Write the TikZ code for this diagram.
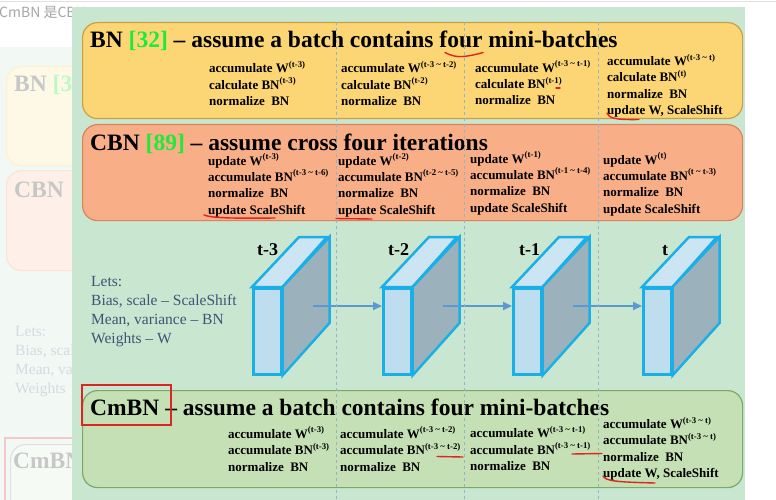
\documentclass[tikz,border=0pt]{standalone}
\usepackage{fontspec}
\setmainfont{Liberation Serif}
\newfontfamily\cjkfont{Noto Sans CJK SC}
\usetikzlibrary{arrows.meta,positioning,calc}
\definecolor{slide}{HTML}{C9E7D0}
\definecolor{fadebg}{HTML}{F2F8F4}
\definecolor{bnfill}{HTML}{FCD674}
\definecolor{bnline}{HTML}{C9A043}
\definecolor{cbnfill}{HTML}{F8AE87}
\definecolor{cbnline}{HTML}{D8845C}
\definecolor{cmbnfill}{HTML}{C4E0B4}
\definecolor{cmbnline}{HTML}{7DA868}
\definecolor{refgreen}{HTML}{1EEA3C}
\definecolor{divline}{HTML}{8EB5C8}
\definecolor{letsblue}{HTML}{3B5575}
\definecolor{cubeline}{HTML}{1AAFE6}
\definecolor{cubefront}{HTML}{BEDDEF}
\definecolor{cubetop}{HTML}{CCE5F2}
\definecolor{cubeside}{HTML}{9BB2BD}
\definecolor{flowblue}{HTML}{5A9AD3}
\definecolor{ink}{HTML}{E02424}
\tikzset{
  panel/.style={
    rounded corners=15pt, line width=1.2pt, anchor=north west,
    minimum width=660pt, minimum height=96pt, inner sep=0pt
  },
  headline/.style={font=\fontsize{23.5}{26}\selectfont\bfseries, anchor=base west, inner sep=0pt},
  steps/.style={font=\fontsize{13}{16.3}\selectfont\bfseries, align=left, anchor=base west, inner sep=0pt},
  lets/.style={font=\fontsize{15.5}{19}\selectfont, align=left, anchor=base west, inner sep=0pt},
  front/.style={
    draw=cubeline, fill=cubefront, line width=2.5pt, anchor=north west,
    minimum width=28pt, minimum height=86pt, inner sep=0pt
  },
  face/.style={draw=cubeline, line width=2.5pt},
  tlabel/.style={font=\fontsize{18}{20}\selectfont\bfseries, anchor=base west, inner sep=0pt},
  flow/.style={-{Triangle[length=9pt,width=8pt]}, line width=2.2pt, draw=flowblue},
  divider/.style={draw=divline, dashed, line width=0.6pt},
  redink/.style={draw=ink, line width=1.4pt, line cap=round},
  faded/.style={text=black!22}
}
\newcommand{\expo}[1]{\raisebox{0.42em}{\fontsize{8.8}{9}\selectfont #1}}
\newcommand{\til}{\textasciitilde{}}
\begin{document}
\begin{tikzpicture}[x=1pt,y=-1pt]
    \useasboundingbox (0,0) rectangle (776,500);
    \fill[white] (0,0) rectangle (776,500);
    \draw[black!12] (0,1.5) -- (776,1.5);
    \fill[fadebg] (0,47) rectangle (72,500);
    \node[anchor=base west, inner sep=0pt, text=black!35, font=\cjkfont\fontsize{14}{16}\selectfont] (cap) at (-1,18) {CmBN 是CBN};
    \node[panel, fill=bnfill!18, draw=bnfill!35, minimum width=200pt, minimum height=99pt] (fbn) at (6,66) {};
    \node[headline, faded] (fbnhead) at (14,92) {BN \textcolor{refgreen!30}{[32]}};
    \node[panel, fill=cbnfill!18, draw=cbnfill!35, minimum width=200pt, minimum height=100pt] (fcbn) at (6,170) {};
    \node[headline, faded] (fcbnhead) at (14,197) {CBN};
    \node[lets, text=letsblue!22] (flets) at (15,393) {Lets:\\Bias, scale\\Mean, variance\\Weights};
    \draw[ink!25, line width=1.6pt] (5,438) rectangle (200,520);
    \node[panel, fill=cmbnfill!15, draw=black!12, minimum width=200pt, minimum height=80pt] (fcmbn) at (10,444) {};
    \node[headline, faded] (fcmbnhead) at (13,468) {CmBN};
    \fill[slide] (72,7) rectangle (745,500);
    \node[panel, fill=bnfill, draw=bnline] (bn) at (82,22) {};
    \node[panel, fill=cbnfill, draw=cbnline] (cbn) at (82,124) {};
    \node[panel, fill=cmbnfill, draw=cmbnline, minimum height=97pt] (cmbn) at (82,390) {};
    \node[headline] (bnhead) at (90,48) {BN \textcolor{refgreen}{[32]} – assume a batch contains four mini-batches};
    \node[headline] (cbnhead) at (90,150) {CBN \textcolor{refgreen}{[89]} – assume cross four iterations};
    \node[headline] (cmbnhead) at (90,415) {CmBN – assume a batch contains four mini-batches};
    \node[steps] (bn1) at (209,105.5) {accumulate W\expo{(t-3)}\\calculate BN\expo{(t-3)}\\normalize\ \ BN};
    \node[steps] (bn2) at (341,105.5) {accumulate W\expo{(t-3 \til\ t-2)}\\calculate BN\expo{(t-2)}\\normalize\ \ BN};
    \node[steps] (bn3) at (475,105) {accumulate W\expo{(t-3 \til\ t-1)}\\calculate BN\expo{(t-1)}\\normalize\ \ BN};
    \node[steps] (bn4) at (607,114.5) {accumulate W\expo{(t-3 \til\ t)}\\calculate BN\expo{(t)}\\normalize\ \ BN\\update W, ScaleShift};
    \node[steps] (cbn1) at (208,214) {update W\expo{(t-3)}\\accumulate BN\expo{(t-3 \til\ t-6)}\\normalize\ \ BN\\update ScaleShift};
    \node[steps] (cbn2) at (338,214) {update W\expo{(t-2)}\\accumulate BN\expo{(t-2 \til\ t-5)}\\normalize\ \ BN\\update ScaleShift};
    \node[steps] (cbn3) at (470,212) {update W\expo{(t-1)}\\accumulate BN\expo{(t-1 \til\ t-4)}\\normalize\ \ BN\\update ScaleShift};
    \node[steps] (cbn4) at (603,213) {update W\expo{(t)}\\accumulate BN\expo{(t \til\ t-3)}\\normalize\ \ BN\\update ScaleShift};
    \node[steps] (cmbn1) at (228,471) {accumulate W\expo{(t-3)}\\accumulate BN\expo{(t-3)}\\normalize\ \ BN};
    \node[steps] (cmbn2) at (340,471) {accumulate W\expo{(t-3 \til\ t-2)}\\accumulate BN\expo{(t-3 \til\ t-2)}\\normalize\ \ BN};
    \node[steps] (cmbn3) at (470,470.5) {accumulate W\expo{(t-3 \til\ t-1)}\\accumulate BN\expo{(t-3 \til\ t-1)}\\normalize\ \ BN};
    \node[steps] (cmbn4) at (603,477.5) {accumulate W\expo{(t-3 \til\ t)}\\accumulate BN\expo{(t-3 \til\ t)}\\normalize\ \ BN\\update W, ScaleShift};
    \node[lets, text=letsblue] (lets) at (91,343) {Lets:\\Bias, scale – ScaleShift\\Mean, variance – BN\\Weights – W};
    \foreach \i/\lab/\dx [count=\n] in {0/t-3/5,1/t-2/6,2/t-1/7,3/t/20} {
        \node[front] (f\n) at (252+130*\i,287) {};
        \draw[face, fill=cubetop] (f\n.north west) -- ++(47,-50) -- ++(28,0) -- (f\n.north east) -- cycle;
        \draw[face, fill=cubeside] (f\n.north east) -- ++(47,-50) -- ++(0,86) -- (f\n.south east) -- cycle;
        \node[tlabel] (l\n) at ($(f\n.north west)+(\dx,-32)$) {\lab};
        \coordinate (m\n) at ($(f\n.north east)+(30,19)$);
    }
    \foreach \a/\b in {1/2,2/3,3/4}
        \draw[flow] (m\a) -- (m\a -| f\b.west);
    \foreach \x in {336,464,598}
        \draw[divider] (\x,22) -- (\x,500);
    \draw[redink] (445,52.5) .. controls (452,56) and (456,57) .. (463,56.5) .. controls (470,56) and (478,54) .. (483,52.5);
    \draw[redink] (556,88) -- (560,88);
    \draw[redink] (607,113) .. controls (609,118) and (614,120) .. (639,119.5);
    \draw[redink] (204,215) .. controls (212,218) and (230,218.5) .. (275,218);
    \draw[redink] (336,218.5) -- (372,219);
    \draw[redink] (437,456.5) -- (463,457);
    \draw[redink] (572,454) -- (602,453.5);
    \draw[redink] (603,476) .. controls (606,481) and (615,482) .. (655,483);
    \draw[ink, line width=1.8pt] (82,385) rectangle (171,425);
\end{tikzpicture}
\end{document}
